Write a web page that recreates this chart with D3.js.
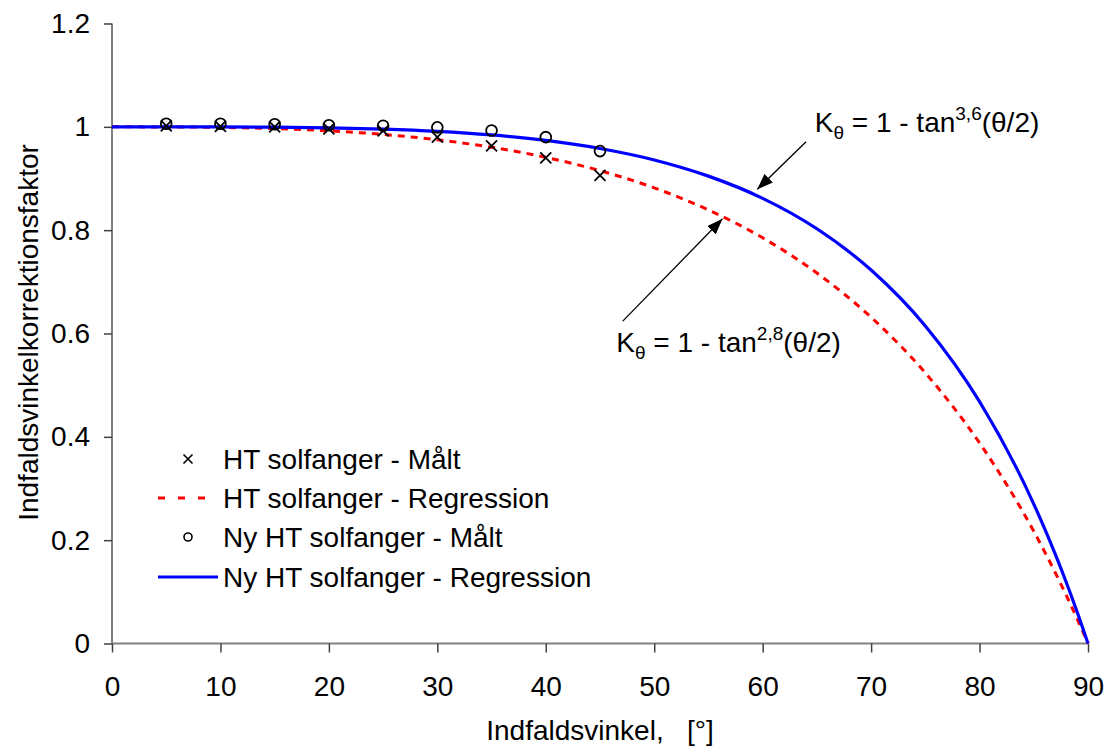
<!DOCTYPE html>
<html>
<head>
<meta charset="utf-8">
<script src="https://cdn.jsdelivr.net/npm/d3@7"></script>
<style>
  html, body { margin: 0; padding: 0; background: #fff; }
  svg { display: block; font-family: "Liberation Sans", Arial, sans-serif; }
</style>
</head>
<body>
<svg id="chart" width="1109" height="749"></svg>
<script>
// Incidence angle (degrees) where the collectors were measured
const measuredAngles = [5, 10, 15, 20, 25, 30, 35, 40, 45];
// HT solfanger - measured incidence angle modifier
const htMeasured = [1.002, 1.001, 1.000, 0.996, 0.992, 0.980, 0.963, 0.940, 0.906];
// Ny HT solfanger - measured incidence angle modifier
const nyMeasured = [1.006, 1.006, 1.005, 1.003, 1.002, 0.999, 0.993, 0.980, 0.953];

// Angles at which the regression curves are drawn
const curveAngles = [0, 5, 10, 15, 20, 25, 30, 35, 40, 45, 50, 55, 60, 65, 70, 75, 80, 85, 86, 87, 88, 89, 90];
// HT solfanger - regression, K = 1 - tan^2.8(θ/2)
const htRegression = [1.0000, 0.9998, 0.9989, 0.9966, 0.9922, 0.9853, 0.9750, 0.9605, 0.9410, 0.9152,
  0.8819, 0.8392, 0.7852, 0.7170, 0.6314, 0.5237, 0.3881, 0.2171, 0.1777, 0.1364, 0.0932, 0.0477, 0.0000];
// Ny HT solfanger - regression, K = 1 - tan^3.6(θ/2)
const nyRegression = [1.0000, 1.0000, 0.9998, 0.9993, 0.9981, 0.9956, 0.9913, 0.9843, 0.9737, 0.9581,
  0.9359, 0.9046, 0.8616, 0.8027, 0.7228, 0.6146, 0.4681, 0.2699, 0.2224, 0.1719, 0.1181, 0.0609, 0.0000];

// Axis ticks
const xTicks = [0, 10, 20, 30, 40, 50, 60, 70, 80, 90];
const yTicks = [0, 0.2, 0.4, 0.6, 0.8, 1, 1.2];
const yTickLabels = ["0", "0.2", "0.4", "0.6", "0.8", "1", "1.2"];

// Legend entries
const legendLabels = [
  "HT solfanger - Målt",
  "HT solfanger - Regression",
  "Ny HT solfanger - Målt",
  "Ny HT solfanger - Regression"
];

const svg = d3.select("#chart");
const FONT = 28;
const SMALL = 19;

const x = d3.scaleLinear().domain([0, 90]).range([112, 1088]);
const y = d3.scaleLinear().domain([0, 1.2]).range([643.5, 23.5]);

// Y axis
const yAxis = svg.append("g")
  .attr("transform", `translate(${x(0)},0)`)
  .call(d3.axisLeft(y).tickValues(yTicks).tickSize(8).tickPadding(14)
    .tickFormat((d, i) => yTickLabels[i]));
yAxis.select(".domain").attr("stroke", "#808080").attr("stroke-width", 2).attr("d", `M0,${y(0)}V${y(1.2)}`);
yAxis.selectAll(".tick line").attr("stroke", "#404040").attr("stroke-width", 1.5);
yAxis.selectAll(".tick text").attr("font-size", FONT).attr("fill", "#000")
  .attr("font-family", "Liberation Sans, Arial, sans-serif");

// X axis
const xAxis = svg.append("g")
  .attr("transform", `translate(0,${y(0)})`)
  .call(d3.axisBottom(x).tickValues(xTicks).tickSize(9).tickFormat(d3.format("d")));
xAxis.select(".domain").attr("stroke", "#808080").attr("stroke-width", 2).attr("d", `M${x(0)},0H${x(90)}`);
xAxis.selectAll(".tick line").attr("stroke", "#404040").attr("stroke-width", 1.5);
xAxis.selectAll(".tick text").attr("font-size", FONT).attr("fill", "#000")
  .attr("font-family", "Liberation Sans, Arial, sans-serif")
  .attr("y", 52).attr("dy", 0);

// Axis titles
svg.append("text")
  .attr("x", x(45)).attr("y", 740)
  .attr("text-anchor", "middle").attr("font-size", FONT)
  .style("white-space", "pre")
  .text("Indfaldsvinkel,   [°]");

svg.append("text")
  .attr("transform", `translate(38,${y(0.6) - 1}) rotate(-90)`)
  .attr("text-anchor", "middle").attr("font-size", FONT)
  .text("Indfaldsvinkelkorrektionsfaktor");

// Regression curves
const line = d3.line().x(d => x(d[0])).y(d => y(d[1])).curve(d3.curveMonotoneX);

svg.append("path")
  .datum(curveAngles.map((a, i) => [a, htRegression[i]]))
  .attr("d", line).attr("fill", "none")
  .attr("stroke", "#ff0000").attr("stroke-width", 3)
  .attr("stroke-dasharray", "7,6");

svg.append("path")
  .datum(curveAngles.map((a, i) => [a, nyRegression[i]]))
  .attr("d", line).attr("fill", "none")
  .attr("stroke", "#0000ff").attr("stroke-width", 3.2);

// Marker helpers
function crossPath(s) {
  return `M${-s},${-s}L${s},${s}M${-s},${s}L${s},${-s}`;
}

// Measured points: HT (crosses)
svg.append("g").selectAll("path")
  .data(measuredAngles.map((a, i) => [a, htMeasured[i]]))
  .join("path")
  .attr("transform", d => `translate(${x(d[0])},${y(d[1])})`)
  .attr("d", crossPath(5.5))
  .attr("stroke", "#000").attr("stroke-width", 1.8).attr("fill", "none");

// Measured points: Ny HT (open circles)
svg.append("g").selectAll("circle")
  .data(measuredAngles.map((a, i) => [a, nyMeasured[i]]))
  .join("circle")
  .attr("cx", d => x(d[0])).attr("cy", d => y(d[1]))
  .attr("r", 5.4)
  .attr("stroke", "#000").attr("stroke-width", 1.8).attr("fill", "none");

// Legend
const legend = svg.append("g");
const rowY = [459, 498, 537, 577];
const textX = 223;
legendLabels.forEach((label, i) => {
  legend.append("text")
    .attr("x", textX).attr("y", rowY[i]).attr("dy", "0.35em")
    .attr("font-size", FONT).text(label);
});
legend.append("path")
  .attr("transform", `translate(188,${rowY[0]})`)
  .attr("d", crossPath(4.5))
  .attr("stroke", "#000").attr("stroke-width", 1.6);
legend.append("line")
  .attr("x1", 158).attr("x2", 206).attr("y1", rowY[1]).attr("y2", rowY[1])
  .attr("stroke", "#ff0000").attr("stroke-width", 3).attr("stroke-dasharray", "7,13");
legend.append("circle")
  .attr("cx", 188).attr("cy", rowY[2]).attr("r", 4)
  .attr("stroke", "#000").attr("stroke-width", 1.6).attr("fill", "none");
legend.append("line")
  .attr("x1", 158).attr("x2", 218).attr("y1", rowY[3]).attr("y2", rowY[3])
  .attr("stroke", "#0000ff").attr("stroke-width", 3.2);

// Arrowhead
svg.append("defs").append("marker")
  .attr("id", "arrowhead")
  .attr("markerUnits", "userSpaceOnUse")
  .attr("viewBox", "0 0 16 12")
  .attr("refX", 16).attr("refY", 6)
  .attr("markerWidth", 16).attr("markerHeight", 12)
  .attr("orient", "auto")
  .append("path").attr("d", "M0,0L16,6L0,12Z").attr("fill", "#000");

// Equation annotations with arrows pointing at each curve
const annotations = [
  { exp: "3,6", text: [64.8, 0.99], tail: [64.0, 0.971], tip: [59.5, 0.879] },
  { exp: "2,8", text: [46.5, 0.564], tail: [47.1, 0.624], tip: [56.3, 0.822] }
];

annotations.forEach(a => {
  svg.append("line")
    .attr("x1", x(a.tail[0])).attr("y1", y(a.tail[1]))
    .attr("x2", x(a.tip[0])).attr("y2", y(a.tip[1]))
    .attr("stroke", "#000").attr("stroke-width", 1.3)
    .attr("marker-end", "url(#arrowhead)");

  const t = svg.append("text")
    .attr("x", x(a.text[0])).attr("y", y(a.text[1]))
    .attr("font-size", FONT);
  t.append("tspan").text("K");
  t.append("tspan").attr("font-size", SMALL).attr("dy", 7).text("θ");
  t.append("tspan").attr("dy", -7).text(" = 1 - tan");
  t.append("tspan").attr("font-size", SMALL).attr("dy", -12).text(a.exp);
  t.append("tspan").attr("dy", 12).text("(θ/2)");
});
</script>
</body>
</html>
